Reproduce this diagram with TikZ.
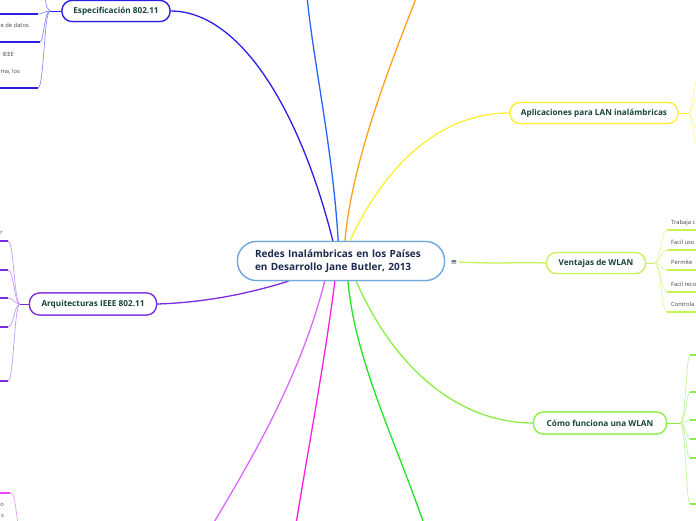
\documentclass[tikz,border=0pt]{standalone}
\usepackage{fontspec}
\setmainfont{Open Sans}
\newfontfamily\symfont{DejaVu Sans}
\definecolor{cborder}{HTML}{6FA8DC}
\definecolor{ctext}{HTML}{1C2B4D}
\definecolor{ntext}{HTML}{17443A}
\definecolor{leaftext}{HTML}{444444}
\definecolor{cspec}{HTML}{2B1EE6}
\definecolor{cspecf}{HTML}{8A8AFF}
\definecolor{carq}{HTML}{7B2BE0}
\definecolor{carqf}{HTML}{C49AF5}
\definecolor{capl}{HTML}{FFEE33}
\definecolor{caplf}{HTML}{FFF59A}
\definecolor{cven}{HTML}{C6F25A}
\definecolor{cvenf}{HTML}{DCF7A0}
\definecolor{ccom}{HTML}{8AEE44}
\definecolor{ccomf}{HTML}{C0F5A0}
\definecolor{cblue}{HTML}{2962FF}
\definecolor{corange}{HTML}{FFA01E}
\definecolor{cmag}{HTML}{FF1EE6}
\definecolor{cgreen}{HTML}{1EE61E}
\definecolor{cviol}{HTML}{DD66FF}
\definecolor{cviolf}{HTML}{EE99FF}
\definecolor{cviolu}{HTML}{EE44FF}
\tikzset{
  central/.style={draw=cborder, line width=1.3pt, fill=white, rounded corners=19pt,
    minimum width=207pt, minimum height=39pt, align=left, text width=172pt, text=ctext,
    font=\fontsize{10}{13.5}\selectfont\bfseries, inner sep=0pt},
  topic/.style={line width=1.2pt, fill=white, rounded corners=10pt,
    minimum height=21pt, text=ntext, font=\fontsize{8.2}{9}\selectfont\bfseries, inner sep=0pt},
  mainline/.style={line width=1.3pt},
  fanline/.style={line width=0.7pt},
  uline/.style={line width=1.5pt},
  leaf/.style={text=leaftext, font=\fontsize{5.8}{7}\selectfont, inner sep=0pt},
}
\begin{document}
\begin{tikzpicture}[x=1pt,y=-1pt]
\useasboundingbox (0,0) rectangle (696,520);
\clip (0,0) rectangle (696,520);

% central node
\node[central] (c) at (341,261) {Redes Inalámbricas en los Países\\en Desarrollo Jane Butler, 2013};
\node[font=\symfont\fontsize{7.5}{8}\selectfont, text=ctext, inner sep=1pt] (menu) at (454,262) {≡};

% topic nodes
\node[topic, draw=cspec, minimum width=108pt] (spec) at (116,11) {Especificación 802.11};
\node[topic, draw=carq, minimum width=127pt, minimum height=22pt] (arq) at (93,304) {Arquitecturas IEEE 802.11};
\node[topic, draw=capl, minimum width=168pt] (apl) at (594,113) {Aplicaciones para LAN inalámbricas};
\node[topic, draw=cven, minimum width=99pt] (ven) at (596,263) {Ventajas de WLAN};
\node[topic, draw=ccom, minimum width=133pt, minimum height=22pt] (com) at (600,423) {Cómo funciona una WLAN};

% off-canvas ends of main branches
\coordinate (tblue) at (307,-4);
\coordinate (torange) at (417,-4);
\coordinate (bmag) at (296,524);
\coordinate (bgreen) at (424,524);
\coordinate (bviol) at (213,524);

% main branches
\draw[mainline, cblue] (c.98) .. controls (333,150) and (313,60) .. (tblue);
\draw[mainline, corange] (c.79) .. controls (352,160) and (392,60) .. (torange);
\draw[mainline, capl] (c.66) .. controls (385,165) and (440,113) .. (apl.west);
\draw[mainline, cspec] (c.112) .. controls (300,110) and (240,11) .. (spec.east);
\draw[mainline, carq] (c.201) .. controls (235,298) and (190,303) .. (arq.east);
\draw[mainline, cmag] (c.253) .. controls (325,360) and (308,450) .. (bmag);
\draw[mainline, cviol] (c.231) .. controls (300,380) and (245,470) .. (bviol);
\draw[mainline, cgreen] (c.289) .. controls (355,360) and (395,440) .. (bgreen);
\draw[mainline, ccom] (c.307) .. controls (395,370) and (460,423) .. (com.west);
\draw[mainline, cven] (menu.east) .. controls (500,264) and (520,262) .. (ven.west);

% ---- Especificacion fan
\coordinate (sf) at (50,11);
\draw[fanline, cspec] (spec.west) -- (sf);
\coordinate (s0) at (44,-12);
\coordinate (s1) at (38,14);
\coordinate (s2) at (40,42);
\coordinate (s3) at (38,88);
\draw[fanline, cspecf] (sf) .. controls (45,8) and (46,0) .. (s0);
\draw[fanline, cspecf] (sf) .. controls (44,11) and (44,14) .. (s1);
\draw[fanline, cspecf] (sf) .. controls (44,11) and (44,42) .. (s2);
\draw[fanline, cspecf] (sf) .. controls (44,11) and (44,88) .. (s3);
\draw[uline, cspec] (s1) -- (0,14);
\draw[uline, cspec] (s2) -- (0,42);
\draw[uline, cspec] (s3) -- (0,88);
\node[leaf, anchor=east] (t2) at (29,25) {e de datos};
\node[leaf, anchor=east] (t3a) at (14,54) {IEEE};
\node[leaf, anchor=east] (t3b) at (20,72) {ma, los};

% ---- Arquitecturas fan
\coordinate (af) at (20,304);
\draw[fanline, carq] (arq.west) -- (af);
\foreach \y [count=\i] in {241,270,298,327,381}{
  \coordinate (a\i) at (8,\y);
  \draw[fanline, carqf] (af) .. controls (14,304) and (14,\y) .. (a\i);
  \draw[uline, carq] (a\i) -- (0,\y);
}
\node[leaf, anchor=east] (ta1) at (3,233) {r};

% ---- bottom-left fan
\coordinate (bl1) at (10,493);
\coordinate (blf) at (18,524);
\draw[fanline, cviolf] (blf) .. controls (15,505) and (15,493) .. (bl1);
\draw[uline, cviolu] (bl1) -- (0,493);
\node[leaf, anchor=east] (tb1) at (4,505) {o};
\node[leaf, anchor=east] (tb2) at (4,516) {s};

% ---- Aplicaciones fan
\coordinate (apf) at (688,113);
\draw[fanline, capl] (apl.east) -- (apf);
\foreach \y [count=\i] in {55,85,140,170}{
  \coordinate (p\i) at (712,\y);
  \draw[fanline, caplf] (apf) .. controls (694,113) and (694,\y) .. (p\i);
}

% ---- Ventajas fan
\coordinate (vf) at (654,263);
\draw[fanline, cven] (ven.east) -- (vf);
\foreach \y/\t [count=\i] in {230/Trabaja c,250/Facil uso,270/Permite,292/Facil reco,312/Controla}{
  \coordinate (v\i) at (667,\y);
  \draw[fanline, cvenf] (vf) .. controls (661,263) and (661,\y) .. (v\i);
  \draw[uline, cven] (v\i) -- (700,\y);
  \node[leaf, anchor=base west] (tv\i) at (671,\y-6) {\t};
}

% ---- Como funciona fan
\coordinate (cf) at (680,423);
\draw[fanline, ccom] (com.east) -- (cf);
\foreach \y [count=\i] in {355,392,420,439,458,504}{
  \coordinate (w\i) at (690,\y);
  \draw[fanline, ccomf] (cf) .. controls (686,423) and (686,\y) .. (w\i);
  \draw[uline, ccom] (w\i) -- (700,\y);
}

% redraw nodes on top of the connectors
\node[central] at (c) {Redes Inalámbricas en los Países\\en Desarrollo Jane Butler, 2013};
\node[topic, draw=cspec, minimum width=108pt] at (spec) {Especificación 802.11};
\node[topic, draw=carq, minimum width=127pt, minimum height=22pt] at (arq) {Arquitecturas IEEE 802.11};
\node[topic, draw=capl, minimum width=168pt] at (apl) {Aplicaciones para LAN inalámbricas};
\node[topic, draw=cven, minimum width=99pt] at (ven) {Ventajas de WLAN};
\node[topic, draw=ccom, minimum width=133pt, minimum height=22pt] at (com) {Cómo funciona una WLAN};
\end{tikzpicture}
\end{document}
